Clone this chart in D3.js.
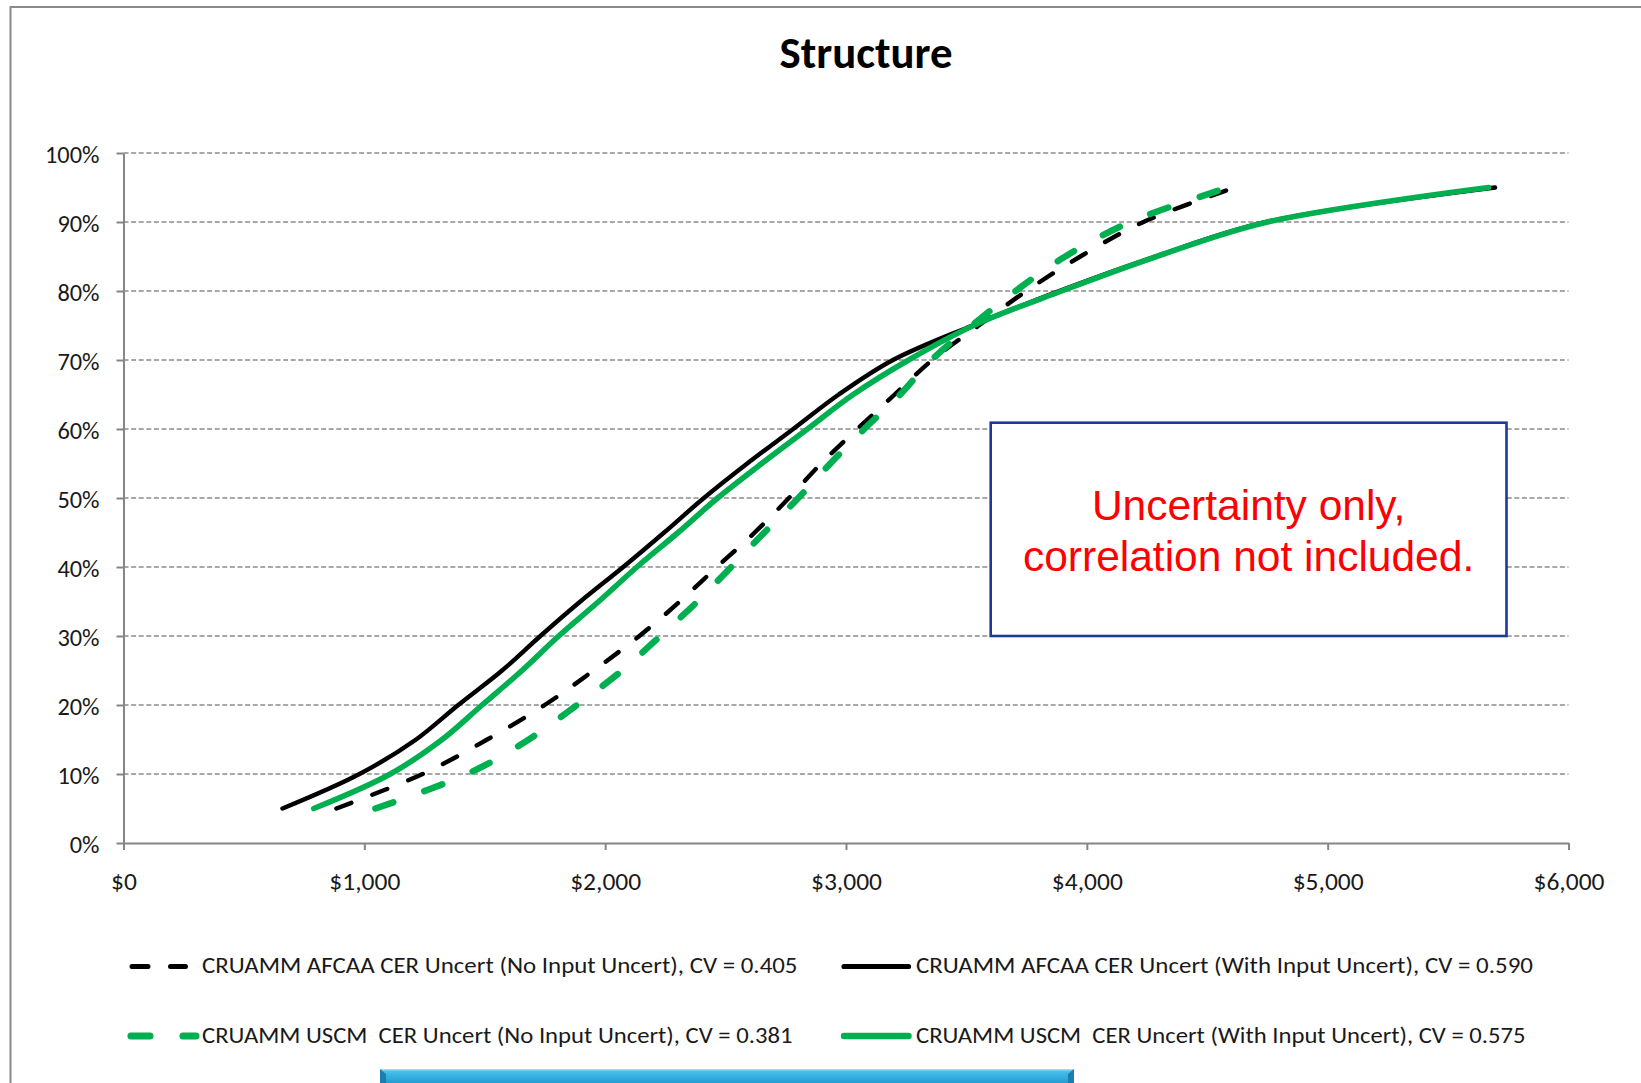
<!DOCTYPE html>
<html>
<head>
<meta charset="utf-8">
<script src="https://cdn.jsdelivr.net/npm/d3@7"></script>
<style>
  body { margin: 0; background: #ffffff; }
  svg { display: block; }
</style>
</head>
<body>
<svg id="chart" width="1641" height="1083"></svg>
<script>
// Cumulative probability levels (%) shared by every curve
const percentiles = [5, 10, 15, 20, 25, 30, 35, 40, 45, 50, 55, 60, 65, 70, 75, 80, 85, 90, 95];

// Cost ($) reached at each probability level
const afcaaNoInput   = [884, 1242, 1510, 1749, 1952, 2142, 2310, 2464, 2621, 2763, 2897, 3047, 3202, 3358, 3551, 3749, 3973, 4235, 4615];
const afcaaWithInput = [660, 980, 1215, 1390, 1572, 1731, 1897, 2075, 2245, 2410, 2590, 2781, 2970, 3195, 3525, 3885, 4285, 4745, 5695];
const uscmNoInput    = [1046, 1427, 1683, 1883, 2070, 2229, 2383, 2523, 2661, 2802, 2935, 3076, 3225, 3355, 3523, 3704, 3910, 4180, 4588];
const uscmWithInput  = [790, 1108, 1323, 1489, 1655, 1807, 1973, 2132, 2303, 2467, 2650, 2840, 3030, 3260, 3530, 3895, 4290, 4750, 5668];

const seriesNames = [
  "CRUAMM AFCAA CER Uncert (No Input Uncert), CV = 0.405",
  "CRUAMM AFCAA CER Uncert (With Input Uncert), CV = 0.590",
  "CRUAMM USCM  CER Uncert (No Input Uncert), CV = 0.381",
  "CRUAMM USCM  CER Uncert (With Input Uncert), CV = 0.575"
];

const xTicks = [0, 1000, 2000, 3000, 4000, 5000, 6000];
const yTicks = [0, 10, 20, 30, 40, 50, 60, 70, 80, 90, 100];

const chartTitle = "Structure";
const noteLines = ["Uncertainty only,", "correlation not included."];

// ---------------------------------------------------------------------------
const svg = d3.select("#chart");
const FONT = "Carlito, Calibri, Lato, 'Open Sans', sans-serif";
const GREEN = "#00b050";
const AXIS_GREY = "#868686";

// Stretch/squeeze a text element to a given width
function fitWidth(sel, width) {
  sel.attr("textLength", width).attr("lengthAdjust", "spacingAndGlyphs");
}
function scaleWidth(sel, k) {
  sel.each(function () {
    const w = this.getComputedTextLength();
    d3.select(this).attr("textLength", w * k).attr("lengthAdjust", "spacingAndGlyphs");
  });
}

const x = d3.scaleLinear().domain([0, 6000]).range([123.5, 1568.5]);
const y = d3.scaleLinear().domain([0, 100]).range([843, 153]);

// Chart frame
svg.append("rect")
  .attr("x", 10.5).attr("y", 7)
  .attr("width", 1700).attr("height", 1200)
  .attr("fill", "#ffffff")
  .attr("stroke", "#8a8a8a").attr("stroke-width", 2);

// Title
svg.append("text")
  .attr("x", 866).attr("y", 68)
  .attr("text-anchor", "middle")
  .attr("font-family", FONT).attr("font-weight", "bold")
  .attr("font-size", 44).attr("fill", "#000")
  .text(chartTitle)
  .call(fitWidth, 173);

// Horizontal gridlines
svg.append("g")
  .selectAll("line")
  .data(yTicks.filter(d => d > 0))
  .join("line")
  .attr("x1", x(0)).attr("x2", x(6000))
  .attr("y1", d => y(d)).attr("y2", d => y(d))
  .attr("stroke", "#8c8c8c").attr("stroke-width", 1.5)
  .attr("stroke-dasharray", "5 2.6");

// Y axis
const yAxis = svg.append("g")
  .attr("transform", `translate(${x(0)},0)`)
  .call(d3.axisLeft(y).tickValues(yTicks).tickFormat(d => d + "%")
    .tickSize(7).tickSizeOuter(0).tickPadding(17));
yAxis.select(".domain").attr("stroke", AXIS_GREY).attr("stroke-width", 2);
yAxis.selectAll(".tick line").attr("stroke", AXIS_GREY).attr("stroke-width", 2);
yAxis.selectAll(".tick text")
  .attr("font-family", FONT).attr("font-size", 24).attr("fill", "#1a1a1a")
  .attr("dy", "0.38em");

// X axis
const xAxis = svg.append("g")
  .attr("transform", `translate(0,${y(0)})`)
  .call(d3.axisBottom(x).tickValues(xTicks).tickFormat(d => "$" + d3.format(",")(d))
    .tickSize(7).tickSizeOuter(0).tickPadding(23));
xAxis.select(".domain").attr("stroke", AXIS_GREY).attr("stroke-width", 2);
xAxis.selectAll(".tick line").attr("stroke", AXIS_GREY).attr("stroke-width", 2);
xAxis.selectAll(".tick text")
  .attr("font-family", FONT).attr("font-size", 24).attr("fill", "#1a1a1a");

// Narrow the tick labels to the chart's condensed type
{
  const yRef = yAxis.selectAll(".tick text").filter(d => d === 100).node().getComputedTextLength();
  scaleWidth(yAxis.selectAll(".tick text"), 54.5 / yRef);
  const xRef = xAxis.selectAll(".tick text").filter(d => d === 1000).node().getComputedTextLength();
  scaleWidth(xAxis.selectAll(".tick text"), 71 / xRef);
}

// Curves
const series = [
  { name: seriesNames[0], values: afcaaNoInput,   color: "#000000", width: 4.4, dash: "16 22.5" },
  { name: seriesNames[1], values: afcaaWithInput, color: "#000000", width: 4.4, dash: null },
  { name: seriesNames[2], values: uscmNoInput,    color: GREEN,     width: 6.5, dash: "19 33" },
  { name: seriesNames[3], values: uscmWithInput,  color: GREEN,     width: 5.6, dash: null }
];

// Smoothed line through every point (spreadsheet-style smoothing)
const line = d3.line()
  .x(d => x(d.v))
  .y(d => y(d.p))
  .curve(d3.curveCatmullRom.alpha(0.5));

svg.append("g")
  .selectAll("path")
  .data(series)
  .join("path")
  .attr("d", s => line(percentiles.map((p, i) => ({ p, v: s.values[i] }))))
  .attr("fill", "none")
  .attr("stroke", s => s.color)
  .attr("stroke-width", s => s.width)
  .attr("stroke-linecap", "round")
  .attr("stroke-linejoin", "round")
  .attr("stroke-dasharray", s => s.dash);

// Note box
const note = svg.append("g");
note.append("rect")
  .attr("x", 990.7).attr("y", 422.7)
  .attr("width", 515.8).attr("height", 213.3)
  .attr("fill", "#ffffff")
  .attr("stroke", "#1b3a96").attr("stroke-width", 2.6);
note.selectAll("text")
  .data(noteLines)
  .join("text")
  .attr("x", 1248.6)
  .attr("y", (d, i) => 520 + i * 50.7)
  .attr("text-anchor", "middle")
  .attr("font-family", "'Liberation Sans', Arial, sans-serif")
  .attr("font-size", 42.5)
  .attr("fill", "#ff0000")
  .text(d => d);

// Legend (two columns, two rows)
const legendSlots = [
  { sx0: 132, sx1: 185.5, tx: 202, ty: 973,  ly: 966.5, tw: 595.5 },
  { sx0: 844, sx1: 908.5, tx: 916, ty: 973,  ly: 966.5, tw: 617 },
  { sx0: 131, sx1: 196,   tx: 202, ty: 1043, ly: 1036,  tw: 590.5 },
  { sx0: 844, sx1: 908.5, tx: 916, ty: 1043, ly: 1036,  tw: 609.5 }
];
const legend = svg.append("g");
series.forEach((s, i) => {
  const slot = legendSlots[i];
  legend.append("line")
    .attr("x1", slot.sx0).attr("x2", slot.sx1)
    .attr("y1", slot.ly).attr("y2", slot.ly)
    .attr("stroke", s.color)
    .attr("stroke-width", s.dash ? s.width + 0.6 : s.width + 0.8)
    .attr("stroke-linecap", "round")
    .attr("stroke-dasharray", s.dash);
  legend.append("text")
    .attr("x", slot.tx).attr("y", slot.ty)
    .attr("font-family", FONT).attr("font-size", 23)
    .attr("fill", "#1a1a1a")
    .style("white-space", "pre")
    .text(s.name)
    .call(fitWidth, slot.tw);
});

// Blue banner at the bottom edge
const defs = svg.append("defs");
const grad = defs.append("linearGradient")
  .attr("id", "bannerGrad").attr("x1", 0).attr("y1", 0).attr("x2", 0).attr("y2", 1);
grad.append("stop").attr("offset", "0%").attr("stop-color", "#a9e4f7");
grad.append("stop").attr("offset", "12%").attr("stop-color", "#49c0ea");
grad.append("stop").attr("offset", "55%").attr("stop-color", "#2aa6da");
grad.append("stop").attr("offset", "100%").attr("stop-color", "#1784b9");
const banner = svg.append("g");
banner.append("rect")
  .attr("x", 380).attr("y", 1069).attr("width", 694).attr("height", 20)
  .attr("fill", "url(#bannerGrad)");
banner.append("polygon")
  .attr("points", "380,1069 386,1074 386,1089 380,1089")
  .attr("fill", "#1a7fb0");
banner.append("polygon")
  .attr("points", "1074,1069 1068,1074 1068,1089 1074,1089")
  .attr("fill", "#1a7fb0");
</script>
</body>
</html>
